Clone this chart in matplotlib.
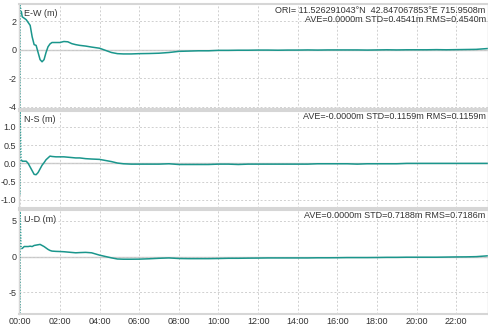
import numpy as np
import matplotlib
matplotlib.use('Agg')
import matplotlib.pyplot as plt

# hours since 00:00 and the three position residuals (m)
horas = [0.0, 0.0, 0.05, 0.1, 0.2, 0.3, 0.4, 0.5, 0.6, 0.7, 0.8, 0.9, 1.0, 1.1,
         1.2, 1.3, 1.4, 1.5, 1.6, 1.8, 2.0, 2.2, 2.4, 2.6, 2.8, 3.0, 3.3, 3.6,
         4.0, 4.3, 4.6, 4.9, 5.2, 5.6, 6.0, 6.5, 7.0, 7.5, 8.0, 8.5, 9.0, 9.5,
         10.0, 10.5, 11.0, 11.5, 12.0, 12.5, 13.0, 13.5, 14.0, 14.5, 15.0, 15.5,
         16.0, 16.5, 17.0, 17.5, 18.0, 18.5, 19.0, 19.5, 20.0, 20.5, 21.0, 21.5,
         22.0, 22.5, 23.0, 23.6]

este_oeste = [-4.5, 3.1, 2.7, 2.3, 2.2, 2.1, 1.9, 1.7, 0.9, 0.35, 0.3, -0.2, -0.7, -0.85,
              -0.7, -0.2, 0.2, 0.4, 0.5, 0.5, 0.5, 0.57, 0.55, 0.42, 0.35, 0.3, 0.25, 0.18,
              0.1, -0.05, -0.2, -0.28, -0.3, -0.3, -0.28, -0.27, -0.25, -0.2, -0.12, -0.1, -0.08, -0.08,
              -0.05, -0.05, -0.04, -0.04, -0.03, -0.03, -0.04, -0.03, -0.03, -0.02, -0.03, -0.02,
              -0.02, -0.02, -0.02, -0.03, -0.02, -0.01, -0.02, -0.01, -0.01, -0.01, 0.0, -0.01,
              0.0, 0.01, 0.02, 0.08]

norte_sur = [-0.85, 1.42, 0.1, 0.06, 0.06, 0.06, 0.0, -0.1, -0.2, -0.3, -0.31, -0.25, -0.15, -0.05,
             0.02, 0.1, 0.15, 0.2, 0.19, 0.18, 0.18, 0.18, 0.17, 0.16, 0.15, 0.15, 0.13, 0.12,
             0.11, 0.08, 0.05, 0.01, -0.01, -0.02, -0.02, -0.02, -0.02, -0.01, -0.03, -0.03, -0.03, -0.03,
             -0.02, -0.02, -0.03, -0.02, -0.02, -0.02, -0.02, -0.02, -0.02, -0.02, -0.01, -0.01,
             -0.01, -0.01, -0.02, -0.01, -0.01, -0.01, -0.01, 0.0, 0.0, 0.0, 0.0, 0.0,
             0.0, 0.0, 0.0, 0.0]

arriba_abajo = [-8.0, 6.5, 1.1, 1.14, 1.4, 1.4, 1.4, 1.45, 1.4, 1.55, 1.6, 1.65, 1.7, 1.55,
                1.4, 1.2, 1.0, 0.85, 0.76, 0.72, 0.7, 0.67, 0.62, 0.57, 0.52, 0.55, 0.58, 0.52,
                0.19, 0.0, -0.19, -0.35, -0.38, -0.38, -0.37, -0.32, -0.25, -0.2, -0.28, -0.3, -0.3, -0.3,
                -0.28, -0.25, -0.25, -0.23, -0.22, -0.2, -0.2, -0.2, -0.2, -0.2, -0.18, -0.18,
                -0.17, -0.15, -0.15, -0.15, -0.14, -0.12, -0.12, -0.1, -0.1, -0.1, -0.1, -0.08,
                -0.06, -0.05, -0.02, 0.1]

etiquetas = ['E-W (m)', 'N-S (m)', 'U-D (m)']
estadisticas = ['ORI= 11.526291043°N  42.847067853°E 715.9508m\nAVE=0.0000m STD=0.4541m RMS=0.4540m',
                'AVE=-0.0000m STD=0.1159m RMS=0.1159m',
                'AVE=0.0000m STD=0.7188m RMS=0.7186m']
limites = [(-4.15, 3.2), (-1.22, 1.44), (-8.1, 6.55)]
marcas_y = [[-4, -2, 0, 2], [-1.0, -0.5, 0.0, 0.5, 1.0], [-5, 0, 5]]
formatos_y = ['{:.0f}', '{:.1f}', '{:.0f}']
horas_ticks = list(range(0, 24, 2))

color_linea = '#1a968c'
gris = '#d6d6d6'

plt.rcParams['font.family'] = ['Liberation Sans', 'DejaVu Sans']

fig = plt.figure(figsize=(4.89, 3.30), dpi=100)
fig.patch.set_facecolor('white')

# posiciones de los tres paneles [izq, abajo, ancho, alto]
cajas = [[0.039, 0.670, 0.959, 0.318],
         [0.039, 0.370, 0.959, 0.294],
         [0.039, 0.048, 0.959, 0.316]]

series = [este_oeste, norte_sur, arriba_abajo]

for i in range(3):
    ax = fig.add_axes(cajas[i])
    # el salto inicial se dibuja fino y punteado, el resto como linea continua
    ax.plot(horas[:3], series[i][:3], color=color_linea, lw=0.8, linestyle=(0, (1, 1.5)))
    ax.plot(horas[2:], series[i][2:], color=color_linea, lw=1.1, solid_capstyle='butt')
    ax.set_xlim(-0.06, 23.6)
    ax.set_ylim(*limites[i])
    ax.set_yticks(marcas_y[i])
    ax.set_yticklabels([formatos_y[i].format(v) for v in marcas_y[i]])
    ax.set_xticks(horas_ticks)
    if i == 2:
        ax.set_xticklabels(['%02d:00' % h for h in horas_ticks])
    else:
        ax.set_xticklabels([])
    ax.tick_params(length=0, labelsize=6.5, colors='#333333', pad=2)
    ax.grid(True, color='#d0d0d0', linestyle=(0, (2, 2)), linewidth=0.7)
    ax.axhline(0, color='#c8c8c8', lw=1.0, zorder=1)
    for lado in ['top', 'bottom', 'left', 'right']:
        ax.spines[lado].set_color(gris)
    ax.spines['top'].set_linewidth(1.5)
    ax.spines['bottom'].set_linewidth(1.5)
    ax.spines['left'].set_linewidth(1.0)
    ax.spines['right'].set_linewidth(1.0)
    ax.text(0.01, 0.955, etiquetas[i], transform=ax.transAxes, fontsize=6.5,
            color='#333333', va='top', ha='left')
    ax.text(0.995, 0.985, estadisticas[i], transform=ax.transAxes, fontsize=6.5,
            color='#333333', va='top', ha='right', linespacing=1.0)

plt.savefig('out.png', dpi=100)
